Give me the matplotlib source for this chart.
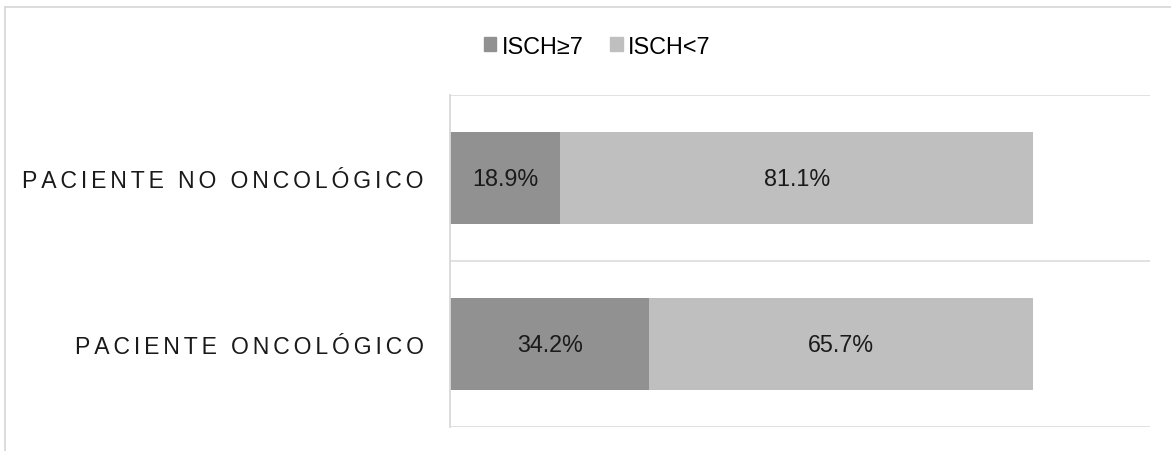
import matplotlib.pyplot as plt
from matplotlib.lines import Line2D
from matplotlib.patches import Patch
from matplotlib.ticker import FixedLocator

# Data: share of patients per ISCH group
categories = ['PACIENTE ONCOLÓGICO', 'PACIENTE NO ONCOLÓGICO']
isch_high = [34.2, 18.9]   # ISCH>=7
isch_low = [65.7, 81.1]    # ISCH<7
series_names = ['ISCH≥7', 'ISCH<7']

col_high = '#919191'
col_low = '#bfbfbf'
grid_col = '#d9d9d9'

plt.rcParams['font.family'] = ['Liberation Sans', 'DejaVu Sans']

fig = plt.figure(figsize=(11.71, 4.52), dpi=100)
ax = fig.add_axes([0.3843, 0.0531, 0.5977, 0.7345])

ypos = list(range(len(categories)))
left_low = [h / 100 for h in isch_high]
ax.barh(ypos, [h / 100 for h in isch_high], height=0.56, color=col_high)
ax.barh(ypos, [l / 100 for l in isch_low], left=left_low, height=0.56, color=col_low)

# value labels in the middle of each segment
for y, h, l in zip(ypos, isch_high, isch_low):
    ax.text(h / 200, y, f'{h:.1f}%', ha='center', va='center', fontsize=16.8, color='#1a1a1a')
    ax.text(h / 100 + l / 200, y, f'{l:.1f}%', ha='center', va='center', fontsize=16.8, color='#1a1a1a')

ax.set_xlim(0, 1.2)
ax.set_ylim(-0.5, len(categories) - 0.5)

# category separators
ax.yaxis.set_minor_locator(FixedLocator([-0.5, 0.5, 1.5]))
ax.grid(True, which='minor', axis='y', color=grid_col, linewidth=1.1)
ax.set_axisbelow(True)

# spaced-out category labels (six-per-em space between letters)
spaced = ['\u2006'.join(c) for c in categories]
ax.set_yticks(ypos)
ax.set_yticklabels(spaced, fontsize=16.6, color='#1a1a1a')
ax.tick_params(axis='y', which='both', length=0, pad=19)
ax.set_xticks([])

for s in ['top', 'right', 'bottom']:
    ax.spines[s].set_visible(False)
ax.spines['left'].set_color(grid_col)
ax.spines['left'].set_linewidth(1.3)

handles = [Patch(color=col_high), Patch(color=col_low)]
fig.legend(handles, series_names, loc='center', bbox_to_anchor=(0.51, 0.896),
           ncol=2, frameon=False, fontsize=16.8, handlelength=0.55, handleheight=0.55,
           handletextpad=0.25, columnspacing=1.1)

# outer chart frame (top and left edges)
fig.add_artist(Line2D([5 / 1171, 1], [1 - 8 / 452, 1 - 8 / 452], color=grid_col, linewidth=1.3))
fig.add_artist(Line2D([5 / 1171, 5 / 1171], [0, 1 - 8 / 452], color=grid_col, linewidth=1.3))

fig.savefig('out.png', dpi=100)
